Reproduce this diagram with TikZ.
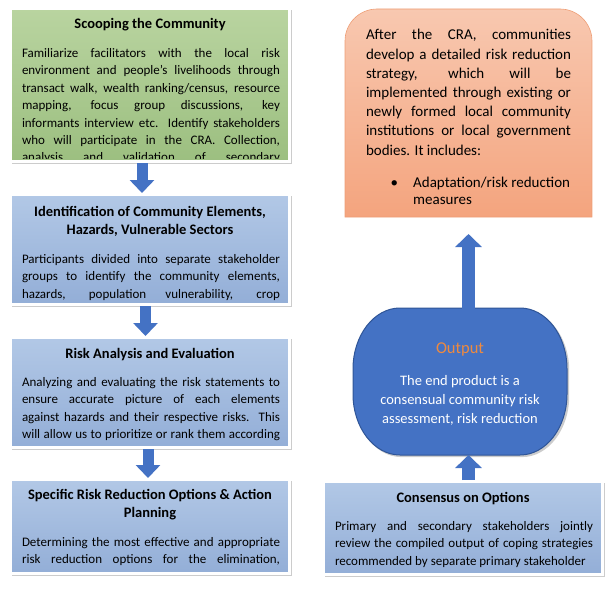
\documentclass[tikz,border=0pt]{standalone}
\usepackage{fontspec}
\setmainfont{Carlito}
\usepackage{xcolor}
\usepackage{tikz}
\usetikzlibrary{positioning, shadows, arrows.meta}

\definecolor{greentop}{HTML}{B9D4A0}
\definecolor{greenbottom}{HTML}{9CBF80}
\definecolor{bluetop}{HTML}{B2C8E6}
\definecolor{bluebottom}{HTML}{93AED7}
\definecolor{orangetop}{HTML}{F8C8B0}
\definecolor{orangebottom}{HTML}{F4A47E}
\definecolor{orangeedge}{HTML}{EE9E76}
\definecolor{outblue}{HTML}{4472C4}
\definecolor{outedge}{HTML}{2F5597}
\definecolor{outorange}{HTML}{F08A3E}

\begin{document}
\begin{tikzpicture}[
    x=1pt, y=1pt,
    node distance=30pt,
    boxshadow/.style={drop shadow={opacity=0.4, shadow xshift=1.8pt, shadow yshift=-1.8pt, shadow scale=1.004}},
    box/.style={rectangle, draw=white, line width=3pt, minimum width=279pt, boxshadow},
    greenbox/.style={box, top color=greentop, bottom color=greenbottom},
    bluebox/.style={box, top color=bluetop, bottom color=bluebottom},
    title/.style={align=center, inner sep=0pt, anchor=base, font=\fontsize{14.5}{18}\selectfont\bfseries},
    body/.style={text width=258pt, align=justify, inner sep=0pt, anchor=base, font=\fontsize{13}{17.4}\selectfont},
    blockarrow/.style={draw=outblue, line width=11pt, -{Triangle[width=24pt, length=13pt]}}
]
\useasboundingbox (0,0) rectangle (612,-588);

% Left column
\node (scoop) [greenbox, minimum height=153pt] at (150,-85) {};
\node (hazards) [bluebox, minimum height=110pt, below=of scoop] {};
\node (risk) [bluebox, minimum height=110pt, below=of hazards] {};
\node (options) [bluebox, minimum height=94pt, below=29pt of risk] {};

\node (scoopTitle) [title] at ([yshift=-22pt]scoop.north) {Scooping the Community};
\begin{scope}
\clip ([shift={(3pt,4.5pt)}]scoop.south west) rectangle ([shift={(-3pt,-3pt)}]scoop.north east);
\node (scoopText) [body] at ([xshift=1pt, yshift=-50.5pt]scoop.north) {%
Familiarize facilitators with the local risk\linebreak
environment and people’s livelihoods through\linebreak
transact walk, wealth ranking/census, resource\linebreak
mapping, focus group discussions, key\linebreak
informants interview etc. Identify stakeholders\linebreak
who will participate in the CRA. Collection,\linebreak
analysis and validation of secondary{\parfillskip=0pt\par}};
\end{scope}

\node (hazardsTitle) [title] at ([yshift=-41pt]hazards.north) {Identification of Community Elements,\\Hazards, Vulnerable Sectors};
\begin{scope}
\clip ([shift={(3pt,3pt)}]hazards.south west) rectangle ([shift={(-3pt,-3pt)}]hazards.north east);
\node (hazardsText) [body] at ([xshift=1pt, yshift=-70.5pt]hazards.north) {%
Participants divided into separate stakeholder\linebreak
groups to identify the community elements,\linebreak
hazards, population vulnerability, crop{\parfillskip=0pt\par}};
\end{scope}

\node (riskTitle) [title] at ([yshift=-22pt]risk.north) {Risk Analysis and Evaluation};
\begin{scope}
\clip ([shift={(3pt,3pt)}]risk.south west) rectangle ([shift={(-3pt,-3pt)}]risk.north east);
\node (riskText) [body] at ([xshift=1pt, yshift=-50.5pt]risk.north) {%
Analyzing and evaluating the risk statements to\linebreak
ensure accurate picture of each elements\linebreak
against hazards and their respective risks. This\linebreak
will allow us to prioritize or rank them according{\parfillskip=0pt\par}};
\end{scope}

\node (optionsTitle) [title] at ([yshift=-39pt]options.north) {Specific Risk Reduction Options \& Action\\Planning};
\begin{scope}
\clip ([shift={(3pt,3pt)}]options.south west) rectangle ([shift={(-3pt,-3pt)}]options.north east);
\node (optionsText) [body] at ([xshift=1pt, yshift=-68.5pt]options.north) {%
Determining the most effective and appropriate\linebreak
risk reduction options for the elimination,{\parfillskip=0pt\par}};
\end{scope}

% Right column
\node (strategy) [minimum width=247pt, minimum height=208pt, outer sep=0pt] at (468.5,-113) {};
\shade[top color=orangetop, bottom color=orangebottom, draw=orangeedge, line width=0.6pt]
  (strategy.south west) -- ([yshift=-32pt]strategy.north west) arc[start angle=180, end angle=90, radius=32pt]
  -- ([xshift=-32pt]strategy.north east) arc[start angle=90, end angle=0, radius=32pt]
  -- (strategy.south east) -- cycle;
\node (strategyText) [anchor=base, text width=205pt, align=justify, inner sep=0pt, font=\fontsize{15}{19.2}\selectfont] at ([yshift=-31pt]strategy.north) {%
After the CRA, communities\linebreak
develop a detailed risk reduction\linebreak
strategy, which will be\linebreak
implemented through existing or\linebreak
newly formed local community\linebreak
institutions or local government\linebreak
bodies. It includes:};
\node (strategyItem) [anchor=base west, align=left, inner sep=0pt, font=\fontsize{15}{17.3}\selectfont] at (390.5,-204.3) {\makebox[22.5pt][l]{\textbullet}Adaptation/risk reduction\\\hspace*{22.5pt}measures};

\node (output) [minimum width=214pt, minimum height=147pt, outer sep=0pt] at (460,-381.5) {};
\filldraw[fill=outblue, draw=outedge, line width=1pt, boxshadow]
  ([xshift=47pt]output.north west) -- ([xshift=-47pt]output.north east)
  arc[start angle=90, end angle=0, x radius=47pt, y radius=61pt] -- ([yshift=61pt]output.south east)
  arc[start angle=0, end angle=-90, x radius=47pt, y radius=61pt] -- ([xshift=47pt]output.south west)
  arc[start angle=270, end angle=180, x radius=47pt, y radius=61pt] -- ([yshift=-61pt]output.north west)
  arc[start angle=180, end angle=90, x radius=47pt, y radius=61pt] -- cycle;
\node (outputTitle) [anchor=base, inner sep=0pt, text=outorange, font=\fontsize{16.5}{20}\selectfont] at ([yshift=-45.5pt]output.north) {Output};
\node (outputText) [anchor=base, align=center, inner sep=0pt, text=white, font=\fontsize{14.5}{19}\selectfont] at ([yshift=-115pt]output.north) {The end product is a\\consensual community risk\\assessment, risk reduction};

\node (consensus) [bluebox, minimum height=93pt] at (463,-528) {};
\node (consensusTitle) [title] at ([yshift=-22pt]consensus.north) {Consensus on Options};
\node (consensusText) [body] at ([xshift=1pt, yshift=-50.5pt]consensus.north) {%
Primary and secondary stakeholders jointly\linebreak
review the compiled output of coping strategies\linebreak
recommended by separate primary stakeholder};

% Arrows
\draw[blockarrow] ([xshift=-8pt]scoop.south) -- ([xshift=-8pt]hazards.north);
\draw[blockarrow] ([xshift=-4.5pt]hazards.south) -- ([xshift=-4.5pt]risk.north);
\draw[blockarrow] ([xshift=-2pt]risk.south) -- ([xshift=-2pt]options.north);
\draw[blockarrow, line width=13pt, -{Triangle[width=26pt, length=13pt]}, shorten >=17pt] ([yshift=-1pt]output.north -| strategy.south) -- (strategy.south);
\draw[blockarrow, line width=13pt, -{Triangle[width=26pt, length=13pt]}] (consensus.north -| strategy.south) -- (output.south -| strategy.south);

\end{tikzpicture}
\end{document}
